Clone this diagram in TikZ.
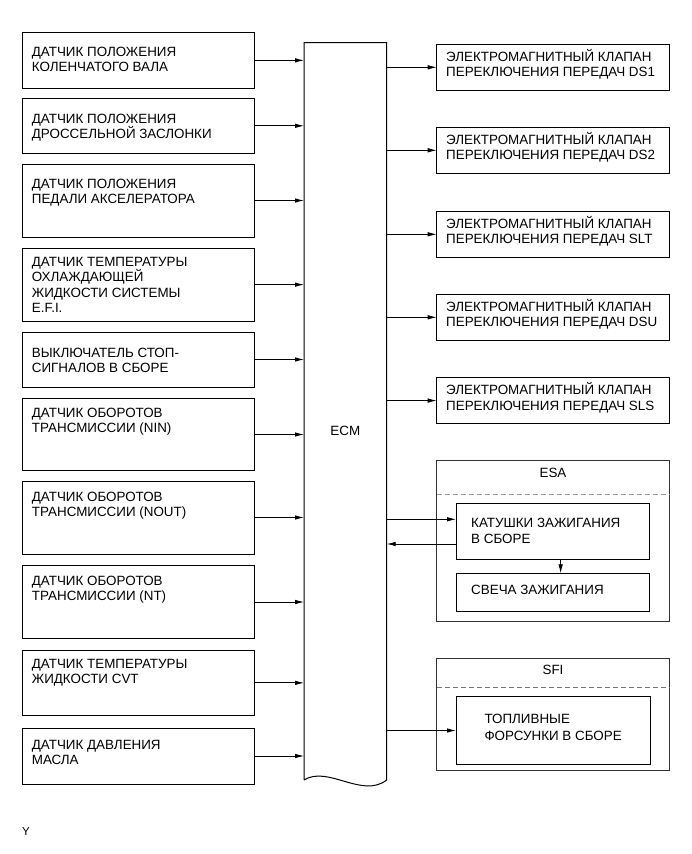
\documentclass[tikz,border=0pt]{standalone}
\usepackage{fontspec}
\setmainfont{Liberation Sans}
\usetikzlibrary{arrows.meta,calc}
\begin{document}
\begin{tikzpicture}[x=1pt,y=-1pt,
  box/.style={draw, line width=0.9pt, anchor=north west, inner sep=0pt, outer sep=0pt},
  lbox/.style={box, minimum width=232pt},
  rbox/.style={box, minimum width=232.3pt, minimum height=46.6pt},
  txt/.style={anchor=north west, inner sep=0pt, align=left, font=\fontsize{13.4}{15.4}\selectfont},
  wtxt/.style={txt, font=\fontsize{13.4}{16.8}\selectfont},
  ctxt/.style={inner sep=0pt, font=\fontsize{13.4}{15.4}\selectfont},
  arr/.style={-{Latex[length=9pt,width=4.5pt]}, line width=0.8pt},
  grp/.style={draw=black!80, line width=1pt, anchor=north west, inner sep=0pt, outer sep=0pt, minimum width=232.3pt},
  sepline/.style={draw=black!40, line width=1pt, dash pattern=on 5pt off 3pt},
  ecmline/.style={draw, line width=1pt}
]
\useasboundingbox (0,0) rectangle (691,854);

% ECM
\node[inner sep=0pt, outer sep=0pt, anchor=north west, minimum width=82.7pt, minimum height=737.3pt] (ecm) at (304,42.7) {};
\draw[ecmline] (ecm.south west) -- (ecm.north west) -- (ecm.north east) -- (ecm.south east)
  .. controls (362,799) and (328,765) .. (ecm.south west);
\node[ctxt] (ecmt) at (345.3,431) {ECM};

% left boxes
\node[lbox, minimum height=55.3pt] (b1) at (22.7,32.7) {};
\node[lbox, minimum height=55pt]   (b2) at (22.7,98.3) {};
\node[lbox, minimum height=73pt]   (b3) at (22.7,164) {};
\node[lbox, minimum height=72.7pt] (b4) at (22.7,248.3) {};
\node[lbox, minimum height=55pt]   (b5) at (22.7,332) {};
\node[lbox, minimum height=72.4pt] (b6) at (22.7,398.3) {};
\node[lbox, minimum height=73pt]   (b7) at (22.7,481) {};
\node[lbox, minimum height=72.6pt] (b8) at (22.7,565.7) {};
\node[lbox, minimum height=64.3pt] (b9) at (22.7,650.7) {};
\node[lbox, minimum height=56pt]   (b10) at (22.7,728) {};

\node[txt] (t1) at (31.7,46.5) {ДАТЧИК ПОЛОЖЕНИЯ\\КОЛЕНЧАТОГО ВАЛА};
\node[txt] (t2) at (31.7,113.5) {ДАТЧИК ПОЛОЖЕНИЯ\\ДРОССЕЛЬНОЙ ЗАСЛОНКИ};
\node[txt] (t3) at (31.7,178.5) {ДАТЧИК ПОЛОЖЕНИЯ\\ПЕДАЛИ АКСЕЛЕРАТОРА};
\node[txt] (t4) at (31.7,257) {ДАТЧИК ТЕМПЕРАТУРЫ\\ОХЛАЖДАЮЩЕЙ\\ЖИДКОСТИ СИСТЕМЫ\\E.F.I.};
\node[txt] (t5) at (31.7,348) {ВЫКЛЮЧАТЕЛЬ СТОП-\\СИГНАЛОВ В СБОРЕ};
\node[txt] (t6) at (31.7,408) {ДАТЧИК ОБОРОТОВ\\ТРАНСМИССИИ (NIN)};
\node[txt] (t7) at (31.7,491.5) {ДАТЧИК ОБОРОТОВ\\ТРАНСМИССИИ (NOUT)};
\node[txt] (t8) at (31.7,575.5) {ДАТЧИК ОБОРОТОВ\\ТРАНСМИССИИ (NT)};
\node[txt] (t9) at (31.7,659) {ДАТЧИК ТЕМПЕРАТУРЫ\\ЖИДКОСТИ CVT};
\node[txt] (t10) at (31.7,740) {ДАТЧИК ДАВЛЕНИЯ\\МАСЛА};

\foreach \b in {b1,b2,b3,b4,b5,b6,b7,b8,b9,b10}
  \draw[arr] (\b.east) -- (\b.east -| ecm.west);

% right boxes
\node[rbox] (r1) at (436.7,44) {};
\node[rbox] (r2) at (436.7,127) {};
\node[rbox] (r3) at (436.7,211) {};
\node[rbox] (r4) at (436.7,294) {};
\node[rbox] (r5) at (436.7,377.3) {};

\node[txt] (s1) at (446,49) {ЭЛЕКТРОМАГНИТНЫЙ КЛАПАН\\ПЕРЕКЛЮЧЕНИЯ ПЕРЕДАЧ DS1};
\node[txt] (s2) at (446,132) {ЭЛЕКТРОМАГНИТНЫЙ КЛАПАН\\ПЕРЕКЛЮЧЕНИЯ ПЕРЕДАЧ DS2};
\node[txt] (s3) at (446,216) {ЭЛЕКТРОМАГНИТНЫЙ КЛАПАН\\ПЕРЕКЛЮЧЕНИЯ ПЕРЕДАЧ SLT};
\node[txt] (s4) at (446,299) {ЭЛЕКТРОМАГНИТНЫЙ КЛАПАН\\ПЕРЕКЛЮЧЕНИЯ ПЕРЕДАЧ DSU};
\node[txt] (s5) at (446,382.3) {ЭЛЕКТРОМАГНИТНЫЙ КЛАПАН\\ПЕРЕКЛЮЧЕНИЯ ПЕРЕДАЧ SLS};

\foreach \r in {r1,r2,r3,r4,r5}
  \draw[arr] (\r.west -| ecm.east) -- (\r.west);

% ESA group
\node[grp, minimum height=161pt] (esa) at (436.7,460.7) {};
\node[ctxt] (esat) at (553,473) {ESA};
\draw[sepline] (esa.west |- 0,494.3) -- (esa.east |- 0,494.3);
\node[box, minimum width=193.3pt, minimum height=55.7pt] (coil) at (456,503.3) {};
\node[wtxt] (coilt) at (471,517.5) {КАТУШКИ ЗАЖИГАНИЯ\\В СБОРЕ};
\node[box, minimum width=193.3pt, minimum height=38.4pt] (plug) at (456,573.3) {};
\node[txt] (plugt) at (471,585.3) {СВЕЧА ЗАЖИГАНИЯ};
\draw[arr] ([yshift=11.85pt]coil.west -| ecm.east) -- ([yshift=11.85pt]coil.west);
\draw[arr] ([yshift=-12.85pt]coil.west) -- ([yshift=-12.85pt]coil.west -| ecm.east);
\draw[arr] ([xshift=8pt]coil.south) -- ([xshift=8pt]coil.south |- plug.north);

% SFI group
\node[grp, minimum height=112.4pt] (sfi) at (436.7,658.3) {};
\node[ctxt] (sfit) at (553,670) {SFI};
\draw[sepline, draw=black!55, line width=0.8pt] (sfi.west |- 0,687.3) -- (sfi.east |- 0,687.3);
\node[box, minimum width=194pt, minimum height=67.6pt] (inj) at (456,696.7) {};
\node[wtxt] (injt) at (484.3,714) {ТОПЛИВНЫЕ\\ФОРСУНКИ В СБОРЕ};
\draw[arr] (inj.west -| ecm.east) -- (inj.west);

% footer
\node[ctxt, font=\fontsize{11.5}{13}\selectfont] (yl) at (26,832) {Y};
\end{tikzpicture}
\end{document}
